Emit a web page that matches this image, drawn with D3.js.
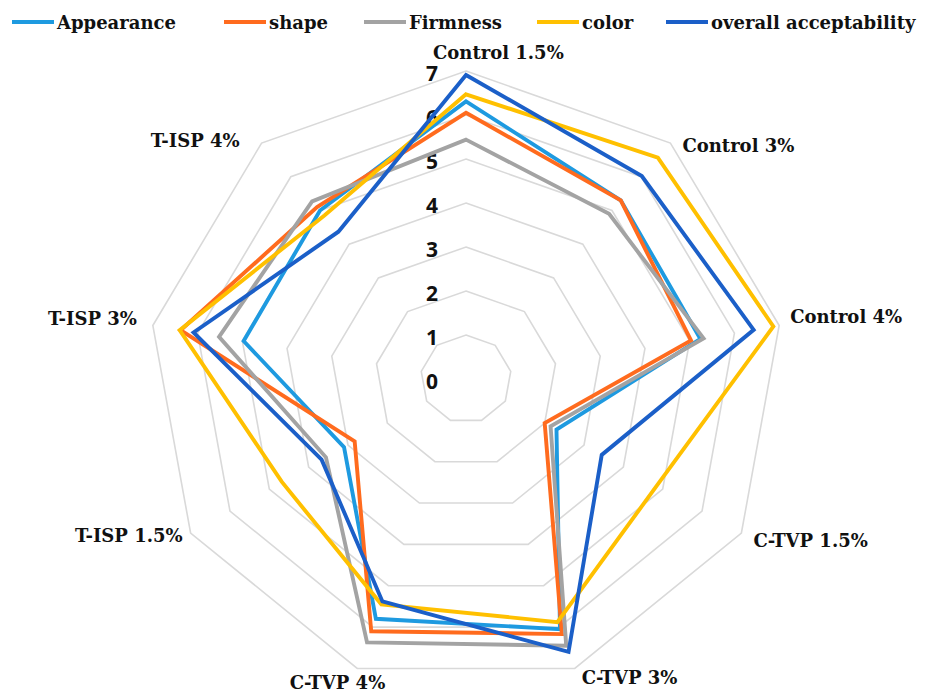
<!DOCTYPE html>
<html>
<head>
<meta charset="utf-8">
<script src="https://cdn.jsdelivr.net/npm/d3@7"></script>
<style>
  html, body { margin: 0; padding: 0; background: #fff; }
  svg { display: block; }
</style>
</head>
<body>
<svg id="chart" width="932" height="693"></svg>
<script>
// ---- data ----
const categories = ["Control 1.5%", "Control 3%", "Control 4%", "C-TVP 1.5%", "C-TVP 3%", "C-TVP 4%", "T-ISP 1.5%", "T-ISP 3%", "T-ISP 4%"];
const seriesNames = ["Appearance", "shape", "Firmness", "color", "overall acceptability"];
const appearance = [6.31, 5.30, 5.24, 2.30, 6.05, 5.80, 3.10, 4.97, 5.00];
const shape      = [6.05, 5.30, 5.03, 2.00, 6.17, 6.10, 2.83, 6.38, 5.10];
const firmness   = [5.44, 4.90, 5.31, 2.15, 6.45, 6.37, 3.56, 5.52, 5.27];
const color      = [6.47, 6.57, 6.87, 4.85, 5.88, 5.45, 4.68, 6.40, 4.85];
const overall    = [6.91, 6.02, 6.43, 3.45, 6.60, 5.38, 3.67, 6.09, 4.37];
const tickValues = [0, 1, 2, 3, 4, 5, 6, 7];

// ---- layout / style ----
const seriesValues = [appearance, shape, firmness, color, overall];
const seriesColors = ["#1E9AE0", "#FF6B1E", "#A3A3A3", "#FFC000", "#1B5FC8"];
const cx = 466, cy = 379;
const rX = d3.scaleLinear().domain([0, 7]).range([0, 318]);
const rY = d3.scaleLinear().domain([0, 7]).range([0, 308]);
const angle = d3.scaleLinear().domain([0, categories.length]).range([-Math.PI / 2, 1.5 * Math.PI]);
const px = (i, v) => cx + rX(v) * Math.cos(angle(i));
const py = (i, v) => cy + rY(v) * Math.sin(angle(i));

// label placement relative to the outer vertex: [anchor, dx, dy]
const labelPlace = [
  ["start", -33, -19], ["start", 12, 2], ["start", 11, -9], ["start", 12, 7],
  ["start", 7, 9], ["end", 28, 14], ["end", -8, 2], ["end", -16, -7], ["end", -22, -3]
];
const legendX = [12, 224, 364, 537, 666];

const svg = d3.select("#chart");
const idx = d3.range(categories.length);

// gridlines
const gridLine = d3.line().curve(d3.curveLinearClosed);
svg.append("g").selectAll("path").data(tickValues.filter(t => t > 0)).join("path")
  .attr("d", t => gridLine(idx.map(i => [px(i, t), py(i, t)])))
  .attr("fill", "none").attr("stroke", "#d9d9d9").attr("stroke-width", 1.6);

// tick labels
svg.append("g").selectAll("text").data(tickValues).join("text")
  .attr("x", 432).attr("y", t => cy - rY(t) + 2)
  .attr("text-anchor", "middle").attr("dominant-baseline", "central")
  .attr("font-family", "'Open Sans', sans-serif").attr("font-weight", "bold")
  .attr("font-size", 21).attr("fill", "#111")
  .text(t => t);

// series
const seriesLine = d3.line().x(d => d[0]).y(d => d[1]).curve(d3.curveLinearClosed);
svg.append("g").selectAll("path").data(seriesValues).join("path")
  .attr("d", vals => seriesLine(vals.map((v, i) => [px(i, v), py(i, v)])))
  .attr("fill", "none")
  .attr("stroke", (d, k) => seriesColors[k])
  .attr("stroke-width", 3.9)
  .attr("stroke-linejoin", "miter");

// category labels
svg.append("g").selectAll("text").data(categories).join("text")
  .attr("x", (c, i) => px(i, 7) + labelPlace[i][1])
  .attr("y", (c, i) => py(i, 7) + labelPlace[i][2])
  .attr("text-anchor", (c, i) => labelPlace[i][0])
  .attr("dominant-baseline", "central")
  .attr("font-family", "'DejaVu Serif', serif").attr("font-weight", "bold")
  .attr("font-size", 18).attr("fill", "#111")
  .text(c => c);

// legend
const leg = svg.append("g").selectAll("g").data(seriesNames).join("g")
  .attr("transform", (d, k) => `translate(${legendX[k]},22)`);
leg.append("line").attr("x1", 0).attr("x2", 42).attr("y1", 0).attr("y2", 0)
  .attr("stroke", (d, k) => seriesColors[k]).attr("stroke-width", 3.9);
leg.append("text").attr("x", 45).attr("y", 0).attr("dominant-baseline", "central")
  .attr("font-family", "'DejaVu Serif', serif").attr("font-weight", "bold")
  .attr("font-size", 18).attr("fill", "#111")
  .text(d => d);
</script>
</body>
</html>
